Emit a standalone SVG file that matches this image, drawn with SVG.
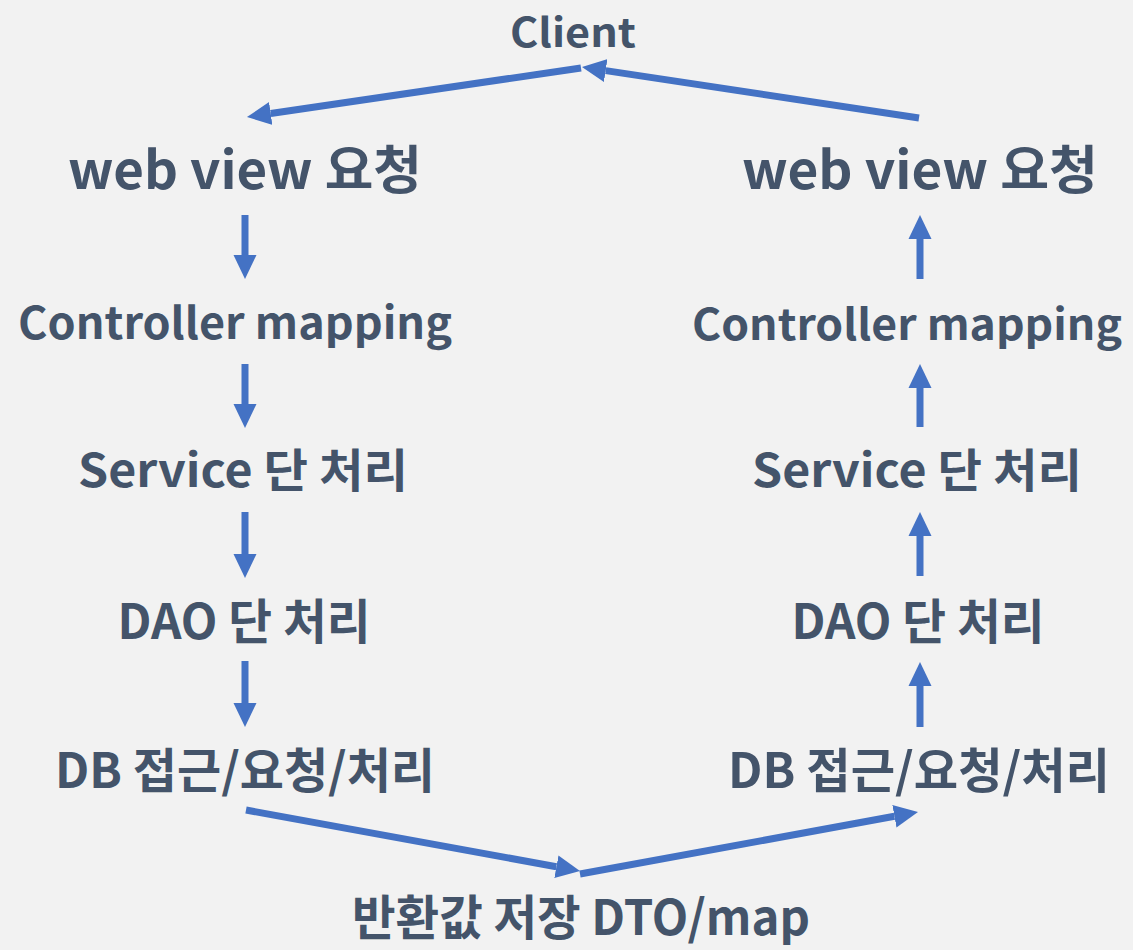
<svg xmlns="http://www.w3.org/2000/svg" width="1133" height="950" viewBox="0 0 1133 950">
<style>
.t{font-family:"Noto Sans CJK KR","Noto Sans",sans-serif;font-weight:700;fill:#44546a;text-anchor:middle}
.c{stroke:#4472c4;stroke-width:7;fill:none;marker-end:url(#ah)}
</style>
<defs>
<marker id="ah" markerUnits="userSpaceOnUse" markerWidth="24" markerHeight="24" refX="0" refY="11.5" orient="auto" viewBox="0 0 24 23">
<path d="M0,0 L24,11.5 L0,23 Z" fill="#4472c4"/>
</marker>
</defs>
<rect width="1133" height="950" fill="#f2f2f2"/>
<g id="client"><text class="t" x="573" y="47" font-size="40" textLength="126" lengthAdjust="spacingAndGlyphs">Client</text></g>
<g id="l-web"><text class="t" x="245" y="189" font-size="52" textLength="354" lengthAdjust="spacingAndGlyphs">web view 요청</text></g>
<g id="l-ctrl"><text class="t" x="235" y="339" font-size="44" textLength="434" lengthAdjust="spacingAndGlyphs">Controller mapping</text></g>
<g id="l-svc"><text class="t" x="243" y="487" font-size="46" textLength="330" lengthAdjust="spacingAndGlyphs">Service 단 처리</text></g>
<g id="l-dao"><text class="t" x="244" y="639" font-size="48" textLength="253" lengthAdjust="spacingAndGlyphs">DAO 단 처리</text></g>
<g id="l-db"><text class="t" x="245" y="788" font-size="48" textLength="380" lengthAdjust="spacingAndGlyphs">DB 접근/요청/처리</text></g>
<g id="r-web"><text class="t" x="920" y="189" font-size="52" textLength="356" lengthAdjust="spacingAndGlyphs">web view 요청</text></g>
<g id="r-ctrl"><text class="t" x="907" y="340" font-size="43" textLength="430" lengthAdjust="spacingAndGlyphs">Controller mapping</text></g>
<g id="r-svc"><text class="t" x="917" y="487" font-size="46" textLength="330" lengthAdjust="spacingAndGlyphs">Service 단 처리</text></g>
<g id="r-dao"><text class="t" x="918" y="639" font-size="48" textLength="253" lengthAdjust="spacingAndGlyphs">DAO 단 처리</text></g>
<g id="r-db"><text class="t" x="919" y="788" font-size="48" textLength="382" lengthAdjust="spacingAndGlyphs">DB 접근/요청/처리</text></g>
<g id="dto"><text class="t" x="581" y="935" font-size="48" textLength="458" lengthAdjust="spacingAndGlyphs">반환값 저장 DTO/map</text></g>
<g id="connectors">
<line class="c" x1="581" y1="68" x2="270.7" y2="113.5"/>
<line class="c" x1="919" y1="118" x2="605.7" y2="70.6"/>
<line class="c" x1="246" y1="810" x2="556.4" y2="866.7"/>
<line class="c" x1="580" y1="874" x2="894.4" y2="816.3"/>
<line class="c" x1="245" y1="215" x2="245" y2="255"/>
<line class="c" x1="245" y1="364" x2="245" y2="404"/>
<line class="c" x1="245" y1="512" x2="245" y2="554"/>
<line class="c" x1="245" y1="661" x2="245" y2="703"/>
<line class="c" x1="920" y1="279" x2="920" y2="239"/>
<line class="c" x1="920" y1="427" x2="920" y2="388"/>
<line class="c" x1="920" y1="576" x2="920" y2="536"/>
<line class="c" x1="920" y1="727" x2="920" y2="686"/>
</g>
</svg>
